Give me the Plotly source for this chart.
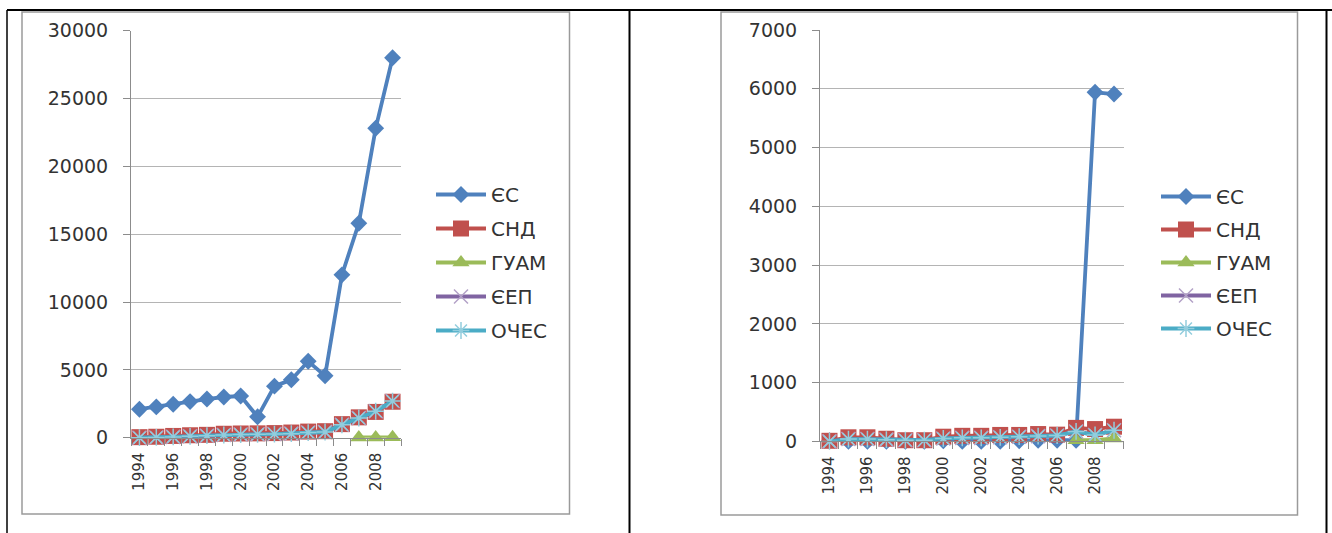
import plotly.graph_objects as go

years = list(range(1994, 2010))
tick_years = list(range(1994, 2009, 2))
tick_text = [str(y) for y in tick_years]
series_names = ["ЄС", "СНД", "ГУАМ", "ЄЕП", "ОЧЕС"]

# Left chart values
left_es = [2100, 2270, 2460, 2660, 2850, 3000, 3070, 1540, 3800, 4270, 5630, 4560, 12000, 15800, 22800, 28000]
left_snd = [40, 70, 130, 180, 210, 290, 310, 320, 340, 380, 450, 480, 1000, 1500, 1900, 2650]
left_guam = [None] * 13 + [20, 20, 30]
left_eep = [0, 20, 60, 100, 150, 200, 230, 250, 270, 300, 380, 420, 950, 1450, 1950, 2700]
left_oches = [0, 20, 60, 100, 150, 200, 230, 250, 270, 300, 380, 420, 950, 1450, 1950, 2700]

# Right chart values
right_es = [10, 0, 0, 0, 0, 0, 10, 0, 0, 0, 10, 20, 20, 20, 5940, 5910]
right_snd = [10, 70, 70, 45, 20, 20, 80, 95, 95, 110, 110, 125, 115, 230, 210, 250]
right_guam = [None] * 13 + [20, 20, 50]
right_eep = [0, 40, 40, 30, 20, 20, 50, 60, 60, 70, 80, 90, 100, 170, 110, 190]
right_oches = [0, 40, 40, 30, 20, 20, 50, 60, 60, 70, 80, 90, 100, 170, 110, 190]

colors = ["#4F81BD", "#C0504D", "#9BBB59", "#8064A2", "#4BACC6"]
symbols = ["diamond", "square", "triangle-up", "x-thin-open", "asterisk-open"]
msizes = [13, 16, 15, 14, 14]

W, H = 1332, 533
FONT = "DejaVu Sans"
TXT = "#333333"
GRID = "#b4b4b4"
AX = "#8c8c8c"

fig = go.Figure()

def add_series(vals_list, xa, ya, legend):
    for i, (name, vals) in enumerate(zip(series_names, vals_list)):
        marker = dict(symbol=symbols[i], size=msizes[i], color=colors[i])
        if i == 3:
            marker = dict(symbol="x-thin-open", size=14, color="#b3a2c7",
                          line=dict(width=1.5, color="#b3a2c7"))
        if i == 4:
            marker = dict(symbol="asterisk-open", size=14, color="#93cddd",
                          line=dict(width=1.5, color="#93cddd"))
        fig.add_trace(go.Scatter(
            x=years, y=vals, name=name, mode="lines+markers",
            line=dict(color=colors[i], width=3.8), marker=marker,
            xaxis=xa, yaxis=ya, legend=legend, cliponaxis=False,
            legendgroup=legend + name, showlegend=True,
        ))

add_series([left_es, left_snd, left_guam, left_eep, left_oches], "x", "y", "legend")
add_series([right_es, right_snd, right_guam, right_eep, right_oches], "x2", "y2", "legend2")

def xaxis_cfg(domain, anchor):
    return dict(
        domain=domain, anchor=anchor, range=[1993.5, 2009.5],
        tickmode="array", tickvals=tick_years, ticktext=tick_text,
        tickangle=-90, ticks="", showgrid=False, zeroline=False,
        showline=True, linecolor=AX, linewidth=1,
        tickfont=dict(family=FONT, size=15, color=TXT),
        ticklabelstandoff=8, automargin=False,
        minor=dict(tickmode="array", tickvals=[1993.5 + k for k in range(17)],
                   ticks="outside", ticklen=7, tickcolor=AX, tickwidth=1, showgrid=False),
        fixedrange=True,
    )

def yaxis_cfg(domain, anchor, rng, dtick):
    return dict(
        domain=domain, anchor=anchor, range=rng, dtick=dtick, tick0=0,
        tickformat="d",
        showgrid=True, gridcolor=GRID, gridwidth=1, zeroline=False,
        showline=True, linecolor=AX, linewidth=1,
        ticks="outside", ticklen=7, tickcolor=AX,
        tickfont=dict(family=FONT, size=19, color=TXT),
        ticklabelstandoff=11, automargin=False, fixedrange=True,
    )

fig.update_layout(
    width=W, height=H, autosize=False,
    margin=dict(l=0, r=0, t=0, b=0, autoexpand=False),
    paper_bgcolor="white", plot_bgcolor="white",
    xaxis=xaxis_cfg([131 / W, 401 / W], "y"),
    yaxis=yaxis_cfg([1 - 437.7 / H, 1 - 30.6 / H], "x", [0, 30000], 5000),
    xaxis2=xaxis_cfg([820 / W, 1123.5 / W], "y2"),
    yaxis2=yaxis_cfg([1 - 441.4 / H, 1 - 30 / H], "x2", [0, 7000], 1000),
    legend=dict(x=431 / W, y=1 - 175 / H, xanchor="left", yanchor="top",
                font=dict(family=FONT, size=20, color=TXT),
                bgcolor="rgba(0,0,0,0)", tracegroupgap=5, itemwidth=50),
    legend2=dict(x=1156 / W, y=1 - 177 / H, xanchor="left", yanchor="top",
                 font=dict(family=FONT, size=20, color=TXT),
                 bgcolor="rgba(0,0,0,0)", tracegroupgap=4, itemwidth=50),
    showlegend=True,
)

# Table borders and chart frames
shapes = [
    dict(type="line", x0=7, x1=W, y0=10, y1=10, line=dict(color="black", width=2)),
    dict(type="line", x0=7, x1=7, y0=10, y1=H, line=dict(color="black", width=1.5)),
    dict(type="line", x0=629.5, x1=629.5, y0=10, y1=H, line=dict(color="black", width=2)),
    dict(type="line", x0=1326.5, x1=1326.5, y0=10, y1=H, line=dict(color="black", width=2)),
    dict(type="rect", x0=22, x1=569.5, y0=12, y1=514, line=dict(color="#9a9a9a", width=1.5)),
    dict(type="rect", x0=721, x1=1297.5, y0=12, y1=515, line=dict(color="#9a9a9a", width=1.5)),
]
for s in shapes:
    s.update(xref="paper", yref="paper", layer="below")
    s["x0"] /= W; s["x1"] /= W
    s["y0"] = 1 - s["y0"] / H; s["y1"] = 1 - s["y1"] / H
fig.update_layout(shapes=shapes)

fig.write_html(
    "out.html",
    config={"displayModeBar": False},
    post_script="document.body.style.margin='0';document.body.style.overflow='hidden';",
)
